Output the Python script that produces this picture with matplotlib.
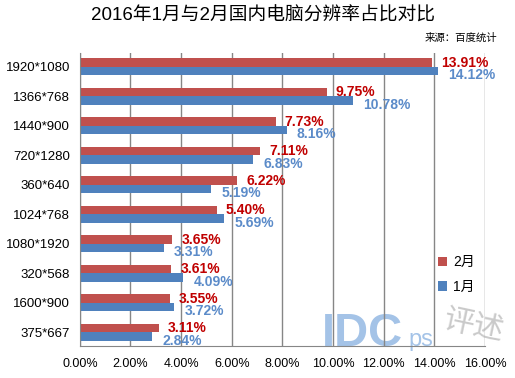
import numpy as np
from matplotlib import pyplot as plt

plt.rcParams['font.family'] = ['Liberation Sans', 'Noto Sans CJK SC', 'DejaVu Sans']

categories = ['1920*1080', '1366*768', '1440*900', '720*1280', '360*640',
              '1024*768', '1080*1920', '320*568', '1600*900', '375*667']
feb = [13.91, 9.75, 7.73, 7.11, 6.22, 5.40, 3.65, 3.61, 3.55, 3.11]
jan = [14.12, 10.78, 8.16, 6.83, 5.19, 5.69, 3.31, 4.09, 3.72, 2.84]
xticks = np.arange(0, 17, 2)

red = '#C0504D'
blue = '#4F81BD'

fig = plt.figure(figsize=(5.15, 3.78), dpi=100)
ax = fig.add_axes([0.155, 0.085, 0.787, 0.775])

y = np.arange(len(categories))
h = 0.29

#watermark (behind everything)
ax.text(0.598, 0.0, 'IDC', transform=ax.transAxes, fontsize=34, fontweight='bold',
        color='#8DB4E2', alpha=0.8, va='baseline', zorder=1)
ax.text(0.81, 0.0, 'ps', transform=ax.transAxes, fontsize=17,
        color='#8DB4E2', alpha=0.8, va='baseline', zorder=1)
fig.text(0.855, 0.1, '评述', fontsize=22, color='#A6A6A6', alpha=0.6,
         rotation=-12, zorder=1)

ax.barh(y - h / 2, feb, height=h, color=red, label='2月', zorder=2)
ax.barh(y + h / 2, jan, height=h, color=blue, label='1月', zorder=2)

#data labels
for i in range(len(categories)):
    ax.annotate('%.2f%%' % feb[i], (feb[i], y[i] - h / 2), xytext=(6.5, 0),
                textcoords='offset points', va='center', ha='left',
                color='#C00000', fontsize=10, fontweight='bold', zorder=3)
    ax.annotate('%.2f%%' % jan[i], (jan[i], y[i] + h / 2), xytext=(7.5, -3),
                textcoords='offset points', va='center', ha='left',
                color='#5B8BC9', fontsize=10, fontweight='bold', zorder=3)

ax.set_xlim(0, 16)
ax.set_ylim(9.46, -0.47)
ax.set_xticks(xticks)
ax.set_xticklabels(['%.2f%%' % t for t in xticks], fontsize=9)
ax.set_yticks(y)
ax.set_yticklabels(categories, fontsize=9.5)
ax.tick_params(axis='both', length=0)
ax.tick_params(axis='x', pad=9)
ax.tick_params(axis='y', pad=7)

ax.grid(axis='x', color='#868686', linewidth=1, zorder=0)
for s in ['top', 'right']:
    ax.spines[s].set_visible(False)
ax.spines['left'].set_color('#868686')
ax.spines['bottom'].set_color('#868686')

handles, labels = ax.get_legend_handles_labels()
ax.legend(handles, labels, loc='lower right', bbox_to_anchor=(1.005, 0.135),
          frameon=False, fontsize=10, handlelength=0.7, handleheight=0.7,
          handletextpad=0.4, labelspacing=0.75)

fig.suptitle('2016年1月与2月国内电脑分辨率占比对比', fontsize=13.5, y=0.98, x=0.51)
fig.text(0.965, 0.893, '来源：百度统计', fontsize=7.5, ha='right')

fig.savefig('out.png', dpi=100)
